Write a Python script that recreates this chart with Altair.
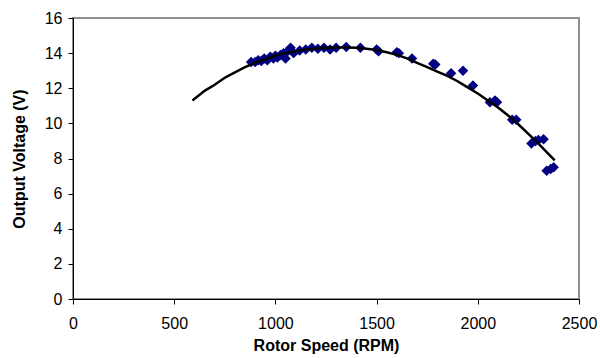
import altair as alt
import pandas as pd

# measured points
speed = [880, 900, 915, 930, 945, 960, 975, 990, 1000, 1010, 1025, 1040, 1050, 1060,
         1075, 1090, 1120, 1150, 1180, 1210, 1240, 1270, 1300, 1350, 1420, 1500, 1510,
         1600, 1610, 1675, 1780, 1790, 1868, 1927, 1976, 2060, 2085, 2095, 2170, 2190,
         2265, 2285, 2300, 2325, 2340, 2360, 2375]
voltage = [13.5, 13.5, 13.6, 13.55, 13.7, 13.6, 13.8, 13.7, 13.85, 13.75, 13.9, 14.0, 13.7, 14.1,
           14.3, 14.0, 14.15, 14.2, 14.3, 14.25, 14.3, 14.2, 14.3, 14.35, 14.3, 14.2, 14.1,
           14.05, 14.0, 13.7, 13.4, 13.35, 12.85, 13.0, 12.15, 11.2, 11.3, 11.2, 10.2, 10.2,
           8.85, 9.0, 9.05, 9.1, 7.3, 7.4, 7.5]

# model curve
fit_speed = [590, 650, 700, 750, 800, 850, 900, 950, 1000, 1050, 1100, 1150, 1200, 1250,
             1300, 1350, 1400, 1450, 1500, 1550, 1600, 1650, 1700, 1750, 1800, 1850, 1900,
             1950, 2000, 2050, 2100, 2150, 2200, 2250, 2300, 2350, 2380]
fit_voltage = [11.3, 11.85, 12.2, 12.6, 12.9, 13.2, 13.45, 13.65, 13.85, 14.0, 14.1, 14.2, 14.25, 14.3,
               14.32, 14.32, 14.3, 14.25, 14.18, 14.05, 13.9, 13.7, 13.45, 13.2, 12.95, 12.7, 12.4,
               12.05, 11.7, 11.3, 10.9, 10.45, 9.95, 9.4, 8.85, 8.25, 7.9]

x_ticks = [0, 500, 1000, 1500, 2000, 2500]
y_ticks = [0, 2, 4, 6, 8, 10, 12, 14, 16]

pts = pd.DataFrame({"speed": speed, "voltage": voltage})
fit = pd.DataFrame({"speed": fit_speed, "voltage": fit_voltage})

FONT = "Liberation Sans"

xscale = alt.Scale(domain=[0, 2500], nice=False)
yscale = alt.Scale(domain=[0, 16], nice=False)

xaxis = alt.Axis(title="Rotor Speed (RPM)", values=x_ticks, format="d",
                 grid=False, domainColor="black", tickColor="black", tickSize=5,
                 labelFont=FONT, labelFontSize=16, labelColor="black", labelPadding=11,
                 titleFont=FONT, titleFontSize=16, titleFontWeight="bold", titleColor="black",
                 titlePadding=6, labelFlush=False, labelOverlap=False)
yaxis = alt.Axis(title="Output Voltage (V)", values=y_ticks, format="d",
                 grid=False, domainColor="black", tickColor="black", tickSize=5,
                 labelFont=FONT, labelFontSize=16, labelColor="black", labelPadding=6,
                 titleFont=FONT, titleFontSize=16, titleFontWeight="bold", titleColor="black",
                 titlePadding=17, labelFlush=False, labelOverlap=False)

points = alt.Chart(pts).mark_point(shape="diamond", filled=True, size=110,
                                   color="#000080", opacity=1).encode(
    x=alt.X("speed:Q", scale=xscale, axis=xaxis),
    y=alt.Y("voltage:Q", scale=yscale, axis=yaxis),
)

line = alt.Chart(fit).mark_line(color="black", strokeWidth=2.5).encode(
    x=alt.X("speed:Q", scale=xscale, axis=xaxis),
    y=alt.Y("voltage:Q", scale=yscale, axis=yaxis),
)

chart = alt.layer(points, line).properties(
    width=506, height=281,
    autosize=alt.AutoSizeParams(type="none"),
    padding={"left": 73, "top": 18, "right": 21, "bottom": 59},
    background="white",
).configure_view(stroke="#909090", strokeWidth=2)

chart.save("out.html", embed_options={"renderer": "svg", "actions": False})
